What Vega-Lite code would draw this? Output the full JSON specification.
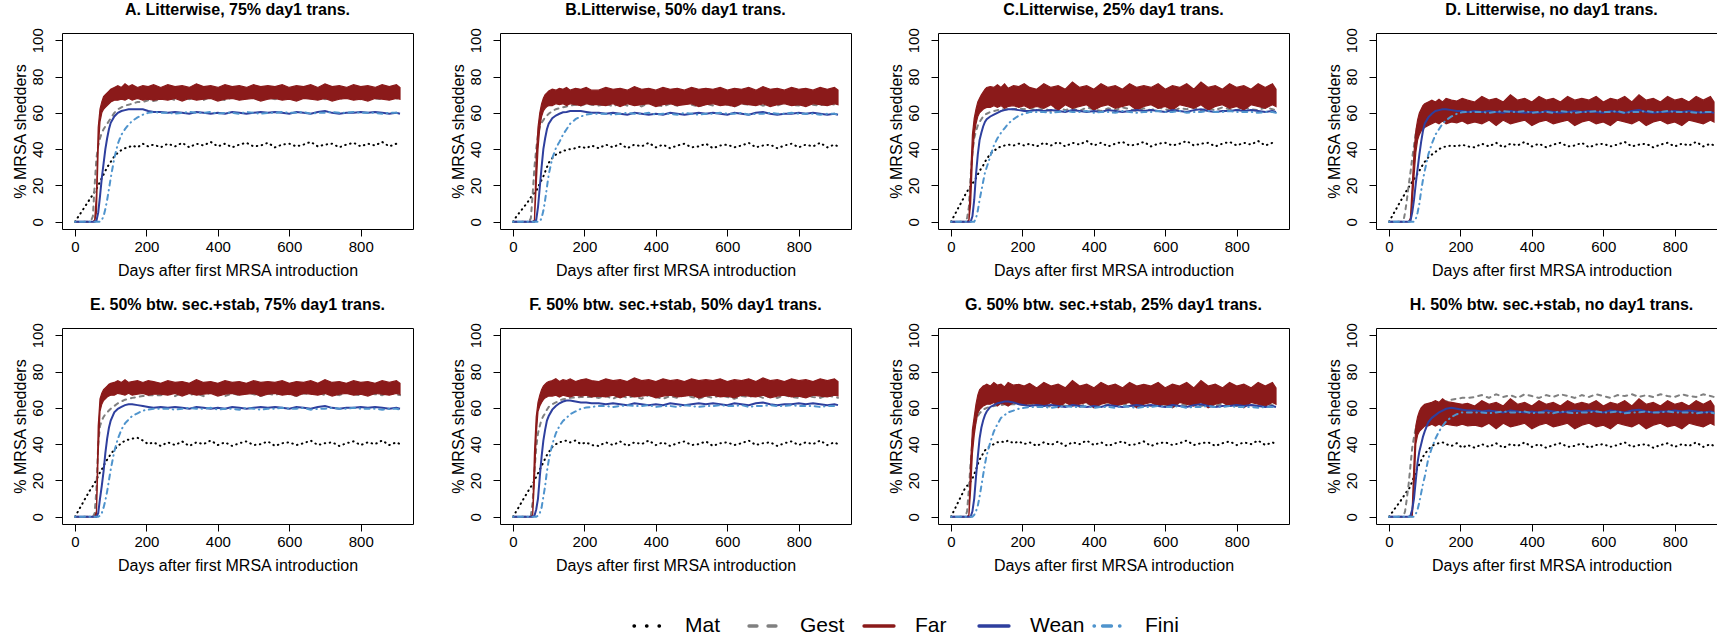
{
"$schema":"https://vega.github.io/schema/vega-lite/v6.json",
"autosize":{"type":"none"},
"padding":{"left":62,"top":33,"right":1655,"bottom":602},
"background":"white",
"columns":4,
"spacing":{"row":99,"column":87},
"bounds":"flush",
"datasets":{
"A":[
{"x":0,"Mat":0,"Gest":0,"lo":0,"hi":0,"Wean":0,"Fini":0},
{"x":10,"Mat":3,"Gest":0,"lo":0,"hi":0,"Wean":0,"Fini":0},
{"x":20,"Mat":6,"Gest":0,"lo":0,"hi":0,"Wean":0,"Fini":0},
{"x":30,"Mat":9,"Gest":0,"lo":0,"hi":0,"Wean":0,"Fini":0},
{"x":40,"Mat":12,"Gest":0,"lo":0,"hi":0,"Wean":0,"Fini":0},
{"x":45,"Mat":13.5,"Gest":0.5,"lo":0,"hi":0,"Wean":0,"Fini":0},
{"x":50,"Mat":15,"Gest":3,"lo":0,"hi":0,"Wean":0,"Fini":0},
{"x":55,"Mat":16.5,"Gest":20,"lo":0,"hi":1,"Wean":0,"Fini":0},
{"x":60,"Mat":18,"Gest":35,"lo":5,"hi":15,"Wean":0.5,"Fini":0},
{"x":65,"Mat":20,"Gest":42,"lo":40,"hi":52,"Wean":5,"Fini":0},
{"x":70,"Mat":22,"Gest":46,"lo":55,"hi":62,"Wean":14,"Fini":0},
{"x":75,"Mat":24,"Gest":49,"lo":60,"hi":66,"Wean":24,"Fini":1},
{"x":80,"Mat":26,"Gest":51,"lo":62,"hi":69,"Wean":32,"Fini":3},
{"x":85,"Mat":28,"Gest":52.5,"lo":63,"hi":70,"Wean":40,"Fini":7},
{"x":90,"Mat":30,"Gest":54,"lo":64,"hi":71,"Wean":46,"Fini":12},
{"x":95,"Mat":31.5,"Gest":55.5,"lo":65,"hi":72,"Wean":51,"Fini":18},
{"x":100,"Mat":33,"Gest":57,"lo":66,"hi":73,"Wean":54.5,"Fini":24},
{"x":110,"Mat":36,"Gest":60,"lo":67,"hi":74,"Wean":58,"Fini":35},
{"x":120,"Mat":38,"Gest":62,"lo":67,"hi":75,"Wean":60,"Fini":43},
{"x":130,"Mat":39.5,"Gest":63,"lo":67.5,"hi":74,"Wean":61,"Fini":48},
{"x":140,"Mat":40.5,"Gest":64,"lo":67,"hi":76,"Wean":61.5,"Fini":51},
{"x":150,"Mat":41,"Gest":64.5,"lo":68,"hi":74.5,"Wean":62,"Fini":53.5},
{"x":160,"Mat":42,"Gest":65,"lo":67,"hi":75.5,"Wean":62,"Fini":55.5},
{"x":175,"Mat":41,"Gest":66,"lo":68,"hi":74,"Wean":62,"Fini":57.5},
{"x":190,"Mat":43,"Gest":66,"lo":67,"hi":75,"Wean":62,"Fini":59},
{"x":205,"Mat":41.5,"Gest":67,"lo":67.5,"hi":74.5,"Wean":61,"Fini":60},
{"x":220,"Mat":42.5,"Gest":66.5,"lo":67,"hi":75.5,"Wean":60.5,"Fini":60.5},
{"x":240,"Mat":41,"Gest":67.5,"lo":67.5,"hi":74,"Wean":60.5,"Fini":60},
{"x":260,"Mat":43,"Gest":68.5,"lo":67,"hi":75.5,"Wean":60,"Fini":60},
{"x":280,"Mat":41.5,"Gest":67,"lo":68,"hi":74.5,"Wean":60.5,"Fini":59.5},
{"x":300,"Mat":43.5,"Gest":69,"lo":66.5,"hi":75,"Wean":60,"Fini":60},
{"x":320,"Mat":41,"Gest":67.5,"lo":68,"hi":74,"Wean":59.5,"Fini":60.5},
{"x":340,"Mat":43,"Gest":68.5,"lo":67,"hi":76,"Wean":60.5,"Fini":60},
{"x":360,"Mat":42,"Gest":67,"lo":67.5,"hi":74.5,"Wean":60,"Fini":60},
{"x":380,"Mat":44,"Gest":69,"lo":68,"hi":75,"Wean":59.5,"Fini":60.5},
{"x":400,"Mat":41.5,"Gest":68,"lo":66.5,"hi":74,"Wean":60,"Fini":59.5},
{"x":420,"Mat":43,"Gest":67,"lo":67.5,"hi":75.5,"Wean":59.5,"Fini":60},
{"x":440,"Mat":41,"Gest":68.5,"lo":68,"hi":74.5,"Wean":60.5,"Fini":60},
{"x":460,"Mat":42.5,"Gest":67.5,"lo":67,"hi":75,"Wean":60,"Fini":59.5},
{"x":480,"Mat":43.5,"Gest":69,"lo":67.5,"hi":74,"Wean":59.5,"Fini":60.5},
{"x":500,"Mat":41.5,"Gest":68,"lo":68,"hi":75.5,"Wean":60,"Fini":60},
{"x":520,"Mat":42,"Gest":67,"lo":66.5,"hi":74.5,"Wean":60.5,"Fini":59.5},
{"x":540,"Mat":43.5,"Gest":68.5,"lo":67.5,"hi":75,"Wean":60,"Fini":60},
{"x":560,"Mat":41,"Gest":67.5,"lo":68,"hi":74.5,"Wean":60.5,"Fini":60},
{"x":580,"Mat":42.5,"Gest":69,"lo":67,"hi":75.5,"Wean":60,"Fini":60.5},
{"x":600,"Mat":43,"Gest":68,"lo":67.5,"hi":74,"Wean":59.5,"Fini":60},
{"x":620,"Mat":41.5,"Gest":67,"lo":66.5,"hi":75,"Wean":60.5,"Fini":60},
{"x":640,"Mat":42.5,"Gest":68.5,"lo":68,"hi":74.5,"Wean":60,"Fini":60.5},
{"x":660,"Mat":44,"Gest":68,"lo":67.5,"hi":75.5,"Wean":59.5,"Fini":59.5},
{"x":680,"Mat":41.5,"Gest":69,"lo":67,"hi":74,"Wean":60.5,"Fini":60},
{"x":700,"Mat":42.5,"Gest":67.5,"lo":68,"hi":76,"Wean":61,"Fini":60},
{"x":720,"Mat":43,"Gest":68.5,"lo":66.5,"hi":74.5,"Wean":60,"Fini":60.5},
{"x":740,"Mat":41,"Gest":67.5,"lo":67.5,"hi":75,"Wean":59.5,"Fini":60},
{"x":760,"Mat":42.5,"Gest":69,"lo":68,"hi":74,"Wean":60,"Fini":60},
{"x":780,"Mat":43.5,"Gest":68,"lo":67,"hi":75.5,"Wean":60,"Fini":60.5},
{"x":800,"Mat":41.5,"Gest":67.5,"lo":67.5,"hi":74.5,"Wean":60.5,"Fini":60},
{"x":820,"Mat":43,"Gest":69,"lo":66.5,"hi":75,"Wean":60,"Fini":60},
{"x":840,"Mat":42,"Gest":68,"lo":68,"hi":74,"Wean":60.5,"Fini":60},
{"x":860,"Mat":44,"Gest":67.5,"lo":67.5,"hi":75.5,"Wean":60,"Fini":59.5},
{"x":880,"Mat":41.5,"Gest":69,"lo":67,"hi":74.5,"Wean":59.5,"Fini":60},
{"x":900,"Mat":43,"Gest":68,"lo":68,"hi":75.5,"Wean":60,"Fini":60},
{"x":910,"Mat":42,"Gest":67.5,"lo":67.5,"hi":74,"Wean":59.5,"Fini":59.5}
],
"B":[
{"x":0,"Mat":0,"Gest":0,"lo":0,"hi":0,"Wean":0,"Fini":0},
{"x":10,"Mat":3,"Gest":0,"lo":0,"hi":0,"Wean":0,"Fini":0},
{"x":20,"Mat":5.5,"Gest":0,"lo":0,"hi":0,"Wean":0,"Fini":0},
{"x":30,"Mat":8,"Gest":0,"lo":0,"hi":0,"Wean":0,"Fini":0},
{"x":40,"Mat":10.5,"Gest":0,"lo":0,"hi":0,"Wean":0,"Fini":0},
{"x":45,"Mat":12,"Gest":0,"lo":0,"hi":0,"Wean":0,"Fini":0},
{"x":50,"Mat":13.5,"Gest":2,"lo":0,"hi":0,"Wean":0,"Fini":0},
{"x":55,"Mat":15,"Gest":15,"lo":0,"hi":0,"Wean":0,"Fini":0},
{"x":60,"Mat":16,"Gest":30,"lo":0,"hi":1,"Wean":0,"Fini":0},
{"x":65,"Mat":17,"Gest":40,"lo":20,"hi":35,"Wean":1,"Fini":0},
{"x":70,"Mat":19,"Gest":48,"lo":40,"hi":52,"Wean":8,"Fini":0},
{"x":75,"Mat":21,"Gest":52,"lo":52,"hi":60,"Wean":19,"Fini":0},
{"x":80,"Mat":23,"Gest":54.5,"lo":58,"hi":65,"Wean":30,"Fini":2},
{"x":85,"Mat":25,"Gest":56,"lo":61,"hi":68,"Wean":40,"Fini":6},
{"x":90,"Mat":27.5,"Gest":57.5,"lo":62.5,"hi":70,"Wean":46,"Fini":12},
{"x":95,"Mat":30,"Gest":58.5,"lo":63.5,"hi":71,"Wean":51,"Fini":19},
{"x":100,"Mat":32.5,"Gest":59.5,"lo":64,"hi":72,"Wean":54,"Fini":26},
{"x":110,"Mat":35,"Gest":61,"lo":64,"hi":73,"Wean":57,"Fini":35},
{"x":120,"Mat":37,"Gest":62,"lo":65,"hi":72.5,"Wean":58.5,"Fini":40.5},
{"x":130,"Mat":38,"Gest":62.5,"lo":64.5,"hi":73.5,"Wean":59.5,"Fini":44},
{"x":140,"Mat":39,"Gest":63,"lo":65,"hi":73,"Wean":60.3,"Fini":48},
{"x":150,"Mat":39.5,"Gest":63.5,"lo":64,"hi":74,"Wean":60.5,"Fini":51},
{"x":160,"Mat":40,"Gest":64,"lo":65,"hi":72.5,"Wean":61,"Fini":54},
{"x":175,"Mat":40.5,"Gest":64.5,"lo":64.5,"hi":73.5,"Wean":61,"Fini":56.5},
{"x":190,"Mat":41.5,"Gest":64,"lo":64,"hi":73,"Wean":61,"Fini":58},
{"x":205,"Mat":40.5,"Gest":65,"lo":65,"hi":74,"Wean":60.5,"Fini":59},
{"x":220,"Mat":42,"Gest":64.5,"lo":64.5,"hi":72.5,"Wean":60,"Fini":59.5},
{"x":240,"Mat":40.5,"Gest":64,"lo":64.5,"hi":72.5,"Wean":60,"Fini":59.5},
{"x":260,"Mat":42.5,"Gest":65,"lo":64,"hi":74,"Wean":59.5,"Fini":59.5},
{"x":280,"Mat":41,"Gest":63.5,"lo":65,"hi":73,"Wean":60,"Fini":59},
{"x":300,"Mat":43,"Gest":65.5,"lo":63.5,"hi":73.5,"Wean":59.5,"Fini":59.5},
{"x":320,"Mat":40.5,"Gest":64,"lo":65,"hi":72.5,"Wean":59,"Fini":60},
{"x":340,"Mat":42.5,"Gest":65,"lo":64,"hi":74.5,"Wean":60,"Fini":59.5},
{"x":360,"Mat":41.5,"Gest":63.5,"lo":64.5,"hi":73,"Wean":59.5,"Fini":59.5},
{"x":380,"Mat":43.5,"Gest":65.5,"lo":65,"hi":73.5,"Wean":59,"Fini":60},
{"x":400,"Mat":41,"Gest":64.5,"lo":63.5,"hi":72.5,"Wean":59.5,"Fini":59},
{"x":420,"Mat":42.5,"Gest":63.5,"lo":64.5,"hi":74,"Wean":59,"Fini":59.5},
{"x":440,"Mat":40.5,"Gest":65,"lo":65,"hi":73,"Wean":60,"Fini":59.5},
{"x":460,"Mat":42,"Gest":64,"lo":64,"hi":73.5,"Wean":59.5,"Fini":59},
{"x":480,"Mat":43,"Gest":65.5,"lo":64.5,"hi":72.5,"Wean":59,"Fini":60},
{"x":500,"Mat":41,"Gest":64.5,"lo":65,"hi":74,"Wean":59.5,"Fini":59.5},
{"x":520,"Mat":41.5,"Gest":63.5,"lo":63.5,"hi":73,"Wean":60,"Fini":59},
{"x":540,"Mat":43,"Gest":65,"lo":64.5,"hi":73.5,"Wean":59.5,"Fini":59.5},
{"x":560,"Mat":40.5,"Gest":64,"lo":65,"hi":73,"Wean":60,"Fini":59.5},
{"x":580,"Mat":42,"Gest":65.5,"lo":64,"hi":74,"Wean":59.5,"Fini":60},
{"x":600,"Mat":42.5,"Gest":64.5,"lo":64.5,"hi":72.5,"Wean":59,"Fini":59.5},
{"x":620,"Mat":41,"Gest":63.5,"lo":63.5,"hi":73.5,"Wean":60,"Fini":59.5},
{"x":640,"Mat":42,"Gest":65,"lo":65,"hi":73,"Wean":59.5,"Fini":60},
{"x":660,"Mat":43.5,"Gest":64.5,"lo":64.5,"hi":74,"Wean":59,"Fini":59},
{"x":680,"Mat":41,"Gest":65.5,"lo":64,"hi":72.5,"Wean":60,"Fini":59.5},
{"x":700,"Mat":42,"Gest":64,"lo":65,"hi":74.5,"Wean":60.5,"Fini":59.5},
{"x":720,"Mat":42.5,"Gest":65,"lo":63.5,"hi":73,"Wean":59.5,"Fini":60},
{"x":740,"Mat":40.5,"Gest":64,"lo":64.5,"hi":73.5,"Wean":59,"Fini":59.5},
{"x":760,"Mat":42,"Gest":65.5,"lo":65,"hi":72.5,"Wean":59.5,"Fini":59.5},
{"x":780,"Mat":43,"Gest":64.5,"lo":64,"hi":74,"Wean":59.5,"Fini":60},
{"x":800,"Mat":41,"Gest":64,"lo":64.5,"hi":73,"Wean":60,"Fini":59.5},
{"x":820,"Mat":42.5,"Gest":65.5,"lo":63.5,"hi":73.5,"Wean":59.5,"Fini":59.5},
{"x":840,"Mat":41.5,"Gest":64.5,"lo":65,"hi":72.5,"Wean":60,"Fini":59.5},
{"x":860,"Mat":43.5,"Gest":64,"lo":64.5,"hi":74,"Wean":59.5,"Fini":59},
{"x":880,"Mat":41,"Gest":65.5,"lo":64,"hi":73,"Wean":59,"Fini":59.5},
{"x":900,"Mat":42.5,"Gest":64.5,"lo":65,"hi":74,"Wean":59.5,"Fini":59.5},
{"x":910,"Mat":41.5,"Gest":64,"lo":64.5,"hi":72.5,"Wean":59,"Fini":59}
],
"C":[
{"x":0,"Mat":0,"Gest":0,"lo":0,"hi":0,"Wean":0,"Fini":0},
{"x":10,"Mat":3.7,"Gest":0,"lo":0,"hi":0,"Wean":0,"Fini":0},
{"x":20,"Mat":7.5,"Gest":0,"lo":0,"hi":0,"Wean":0,"Fini":0},
{"x":30,"Mat":11,"Gest":0,"lo":0,"hi":0,"Wean":0,"Fini":0},
{"x":40,"Mat":15,"Gest":0,"lo":0,"hi":0,"Wean":0,"Fini":0},
{"x":45,"Mat":16.5,"Gest":2,"lo":0,"hi":0,"Wean":0,"Fini":0},
{"x":50,"Mat":18.5,"Gest":8,"lo":0,"hi":1,"Wean":0,"Fini":0},
{"x":55,"Mat":19.5,"Gest":25,"lo":10,"hi":25,"Wean":0,"Fini":0},
{"x":60,"Mat":21,"Gest":38,"lo":35,"hi":48,"Wean":3,"Fini":0},
{"x":65,"Mat":22.5,"Gest":46,"lo":48,"hi":57,"Wean":12,"Fini":0},
{"x":70,"Mat":24,"Gest":50,"lo":54,"hi":62,"Wean":26,"Fini":2},
{"x":75,"Mat":26,"Gest":53,"lo":58,"hi":66,"Wean":37,"Fini":6},
{"x":80,"Mat":28,"Gest":55,"lo":60,"hi":68,"Wean":45,"Fini":12},
{"x":85,"Mat":29.5,"Gest":56.5,"lo":61,"hi":70,"Wean":49,"Fini":17},
{"x":90,"Mat":31,"Gest":58,"lo":62,"hi":71.5,"Wean":52.5,"Fini":22},
{"x":95,"Mat":33,"Gest":59,"lo":62.5,"hi":73,"Wean":55,"Fini":27},
{"x":100,"Mat":34.5,"Gest":59.5,"lo":63,"hi":74,"Wean":56.5,"Fini":30},
{"x":110,"Mat":37.5,"Gest":60.5,"lo":63,"hi":74.5,"Wean":58,"Fini":36},
{"x":120,"Mat":39,"Gest":61,"lo":64,"hi":74,"Wean":59,"Fini":42},
{"x":130,"Mat":40.5,"Gest":61.5,"lo":63,"hi":75.5,"Wean":60,"Fini":46},
{"x":140,"Mat":41.5,"Gest":62,"lo":64,"hi":74,"Wean":61,"Fini":49},
{"x":150,"Mat":42,"Gest":62,"lo":62.5,"hi":76,"Wean":61.5,"Fini":51.5},
{"x":160,"Mat":42.5,"Gest":62,"lo":63.5,"hi":73.5,"Wean":62,"Fini":54},
{"x":175,"Mat":42,"Gest":62,"lo":64,"hi":75,"Wean":62,"Fini":56.5},
{"x":190,"Mat":43,"Gest":62.5,"lo":63,"hi":74.5,"Wean":61.5,"Fini":58.5},
{"x":205,"Mat":42,"Gest":62,"lo":64,"hi":76,"Wean":61,"Fini":59.5},
{"x":220,"Mat":43,"Gest":62.5,"lo":62.5,"hi":74,"Wean":61,"Fini":60.5},
{"x":240,"Mat":41.5,"Gest":61.5,"lo":63.5,"hi":73,"Wean":61.5,"Fini":60.5},
{"x":260,"Mat":43.5,"Gest":62.5,"lo":62.5,"hi":76,"Wean":61,"Fini":60.5},
{"x":280,"Mat":42,"Gest":61,"lo":64.5,"hi":74,"Wean":61.5,"Fini":60},
{"x":300,"Mat":44,"Gest":63,"lo":61.5,"hi":75,"Wean":61,"Fini":60.5},
{"x":320,"Mat":41.5,"Gest":61.5,"lo":64.5,"hi":73,"Wean":60.5,"Fini":61},
{"x":340,"Mat":43.5,"Gest":62.5,"lo":62.5,"hi":77,"Wean":61.5,"Fini":60.5},
{"x":360,"Mat":42.5,"Gest":61,"lo":63.5,"hi":74,"Wean":61,"Fini":60.5},
{"x":380,"Mat":44.5,"Gest":63,"lo":64.5,"hi":75,"Wean":60.5,"Fini":61},
{"x":400,"Mat":42,"Gest":62,"lo":61.5,"hi":73,"Wean":61,"Fini":60},
{"x":420,"Mat":43.5,"Gest":61,"lo":63.5,"hi":76,"Wean":60.5,"Fini":60.5},
{"x":440,"Mat":41.5,"Gest":62.5,"lo":64.5,"hi":74,"Wean":61.5,"Fini":60.5},
{"x":460,"Mat":43,"Gest":61.5,"lo":62.5,"hi":75,"Wean":61,"Fini":60},
{"x":480,"Mat":44,"Gest":63,"lo":63.5,"hi":73,"Wean":60.5,"Fini":61},
{"x":500,"Mat":42,"Gest":62,"lo":64.5,"hi":76,"Wean":61,"Fini":60.5},
{"x":520,"Mat":42.5,"Gest":61,"lo":61.5,"hi":74,"Wean":61.5,"Fini":60},
{"x":540,"Mat":44,"Gest":62.5,"lo":63.5,"hi":75,"Wean":61,"Fini":60.5},
{"x":560,"Mat":41.5,"Gest":61.5,"lo":64.5,"hi":74,"Wean":61.5,"Fini":60.5},
{"x":580,"Mat":43,"Gest":63,"lo":62.5,"hi":76,"Wean":61,"Fini":61},
{"x":600,"Mat":43.5,"Gest":62,"lo":63.5,"hi":73,"Wean":60.5,"Fini":60.5},
{"x":620,"Mat":42,"Gest":61,"lo":61.5,"hi":75,"Wean":61.5,"Fini":60.5},
{"x":640,"Mat":43,"Gest":62.5,"lo":64.5,"hi":74,"Wean":61,"Fini":61},
{"x":660,"Mat":44.5,"Gest":62,"lo":63.5,"hi":76,"Wean":60.5,"Fini":60},
{"x":680,"Mat":42,"Gest":63,"lo":62.5,"hi":73,"Wean":61.5,"Fini":60.5},
{"x":700,"Mat":43,"Gest":61.5,"lo":64.5,"hi":77,"Wean":62,"Fini":60.5},
{"x":720,"Mat":43.5,"Gest":62.5,"lo":61.5,"hi":74,"Wean":61,"Fini":61},
{"x":740,"Mat":41.5,"Gest":61.5,"lo":63.5,"hi":75,"Wean":60.5,"Fini":60.5},
{"x":760,"Mat":43,"Gest":63,"lo":64.5,"hi":73,"Wean":61,"Fini":60.5},
{"x":780,"Mat":44,"Gest":62,"lo":62.5,"hi":76,"Wean":61,"Fini":61},
{"x":800,"Mat":42,"Gest":61.5,"lo":63.5,"hi":74,"Wean":61.5,"Fini":60.5},
{"x":820,"Mat":43.5,"Gest":63,"lo":61.5,"hi":75,"Wean":61,"Fini":60.5},
{"x":840,"Mat":42.5,"Gest":62,"lo":64.5,"hi":73,"Wean":61.5,"Fini":60.5},
{"x":860,"Mat":44.5,"Gest":61.5,"lo":63.5,"hi":76,"Wean":61,"Fini":60},
{"x":880,"Mat":42,"Gest":63,"lo":62.5,"hi":74,"Wean":60.5,"Fini":60.5},
{"x":900,"Mat":43.5,"Gest":62,"lo":64.5,"hi":76,"Wean":61,"Fini":60.5},
{"x":910,"Mat":42.5,"Gest":61.5,"lo":63.5,"hi":73,"Wean":60.5,"Fini":60}
],
"D":[
{"x":0,"Mat":0,"Gest":0,"lo":0,"hi":0,"Wean":0,"Fini":0},
{"x":10,"Mat":3.5,"Gest":0,"lo":0,"hi":0,"Wean":0,"Fini":0},
{"x":20,"Mat":7,"Gest":0,"lo":0,"hi":0,"Wean":0,"Fini":0},
{"x":30,"Mat":10.5,"Gest":0,"lo":0,"hi":0,"Wean":0,"Fini":0},
{"x":40,"Mat":14,"Gest":0,"lo":0,"hi":0,"Wean":0,"Fini":0},
{"x":45,"Mat":15.5,"Gest":5,"lo":0,"hi":0,"Wean":0,"Fini":0},
{"x":50,"Mat":17.5,"Gest":12,"lo":0,"hi":0,"Wean":0,"Fini":0},
{"x":55,"Mat":19,"Gest":20,"lo":0,"hi":0,"Wean":0,"Fini":0},
{"x":60,"Mat":20.5,"Gest":27,"lo":0,"hi":2,"Wean":0.5,"Fini":0},
{"x":65,"Mat":22,"Gest":35,"lo":10,"hi":20,"Wean":5,"Fini":0},
{"x":70,"Mat":23.5,"Gest":42,"lo":25,"hi":38,"Wean":12,"Fini":0},
{"x":75,"Mat":25,"Gest":49,"lo":38,"hi":50,"Wean":21,"Fini":1.5},
{"x":80,"Mat":26.5,"Gest":53,"lo":45,"hi":56,"Wean":29,"Fini":5},
{"x":85,"Mat":28,"Gest":55,"lo":48,"hi":60,"Wean":37,"Fini":10},
{"x":90,"Mat":30,"Gest":57,"lo":50,"hi":62,"Wean":44,"Fini":17},
{"x":95,"Mat":31.5,"Gest":58,"lo":51,"hi":64,"Wean":50,"Fini":23},
{"x":100,"Mat":33,"Gest":59,"lo":52,"hi":65,"Wean":54,"Fini":28},
{"x":110,"Mat":35.5,"Gest":60,"lo":53,"hi":66,"Wean":57.5,"Fini":37},
{"x":120,"Mat":37,"Gest":61,"lo":54,"hi":67,"Wean":59.5,"Fini":43},
{"x":130,"Mat":38.5,"Gest":61.5,"lo":55,"hi":66,"Wean":61,"Fini":48},
{"x":140,"Mat":40,"Gest":62,"lo":54,"hi":67.5,"Wean":61.5,"Fini":51},
{"x":150,"Mat":41,"Gest":62.5,"lo":55.5,"hi":66,"Wean":62,"Fini":54},
{"x":160,"Mat":41.5,"Gest":63,"lo":54,"hi":68,"Wean":62,"Fini":56},
{"x":175,"Mat":42,"Gest":64,"lo":55,"hi":67,"Wean":61.5,"Fini":58},
{"x":190,"Mat":41.5,"Gest":65,"lo":54.5,"hi":66.5,"Wean":61,"Fini":59.5},
{"x":205,"Mat":42.5,"Gest":64,"lo":55.5,"hi":68,"Wean":61,"Fini":60.3},
{"x":220,"Mat":41.5,"Gest":63,"lo":54,"hi":67,"Wean":60.5,"Fini":60.5},
{"x":240,"Mat":41,"Gest":62,"lo":55,"hi":66,"Wean":61,"Fini":60.5},
{"x":260,"Mat":43,"Gest":63,"lo":54,"hi":69,"Wean":60.5,"Fini":60.5},
{"x":280,"Mat":41.5,"Gest":61.5,"lo":56,"hi":67,"Wean":61,"Fini":60},
{"x":300,"Mat":43.5,"Gest":63.5,"lo":53,"hi":68,"Wean":60.5,"Fini":60.5},
{"x":320,"Mat":41,"Gest":62,"lo":56,"hi":66,"Wean":60,"Fini":61},
{"x":340,"Mat":43,"Gest":63,"lo":54,"hi":70,"Wean":61,"Fini":60.5},
{"x":360,"Mat":42,"Gest":61.5,"lo":55,"hi":67,"Wean":60.5,"Fini":60.5},
{"x":380,"Mat":44,"Gest":63.5,"lo":56,"hi":68,"Wean":60,"Fini":61},
{"x":400,"Mat":41.5,"Gest":62.5,"lo":53,"hi":66,"Wean":60.5,"Fini":60},
{"x":420,"Mat":43,"Gest":61.5,"lo":55,"hi":69,"Wean":60,"Fini":60.5},
{"x":440,"Mat":41,"Gest":63,"lo":56,"hi":67,"Wean":61,"Fini":60.5},
{"x":460,"Mat":42.5,"Gest":62,"lo":54,"hi":68,"Wean":60.5,"Fini":60},
{"x":480,"Mat":43.5,"Gest":63.5,"lo":55,"hi":66,"Wean":60,"Fini":61},
{"x":500,"Mat":41.5,"Gest":62.5,"lo":56,"hi":69,"Wean":60.5,"Fini":60.5},
{"x":520,"Mat":42,"Gest":61.5,"lo":53,"hi":67,"Wean":61,"Fini":60},
{"x":540,"Mat":43.5,"Gest":63,"lo":55,"hi":68,"Wean":60.5,"Fini":60.5},
{"x":560,"Mat":41,"Gest":62,"lo":56,"hi":67,"Wean":61,"Fini":60.5},
{"x":580,"Mat":42.5,"Gest":63.5,"lo":54,"hi":69,"Wean":60.5,"Fini":61},
{"x":600,"Mat":43,"Gest":62.5,"lo":55,"hi":66,"Wean":60,"Fini":60.5},
{"x":620,"Mat":41.5,"Gest":61.5,"lo":53,"hi":68,"Wean":61,"Fini":60.5},
{"x":640,"Mat":42.5,"Gest":63,"lo":56,"hi":67,"Wean":60.5,"Fini":61},
{"x":660,"Mat":44,"Gest":62.5,"lo":55,"hi":69,"Wean":60,"Fini":60},
{"x":680,"Mat":41.5,"Gest":63.5,"lo":54,"hi":66,"Wean":61,"Fini":60.5},
{"x":700,"Mat":42.5,"Gest":62,"lo":56,"hi":70,"Wean":61.5,"Fini":60.5},
{"x":720,"Mat":43,"Gest":63,"lo":53,"hi":67,"Wean":60.5,"Fini":61},
{"x":740,"Mat":41,"Gest":62,"lo":55,"hi":68,"Wean":60,"Fini":60.5},
{"x":760,"Mat":42.5,"Gest":63.5,"lo":56,"hi":66,"Wean":60.5,"Fini":60.5},
{"x":780,"Mat":43.5,"Gest":62.5,"lo":54,"hi":69,"Wean":60.5,"Fini":61},
{"x":800,"Mat":41.5,"Gest":62,"lo":55,"hi":67,"Wean":61,"Fini":60.5},
{"x":820,"Mat":43,"Gest":63.5,"lo":53,"hi":68,"Wean":60.5,"Fini":60.5},
{"x":840,"Mat":42,"Gest":62.5,"lo":56,"hi":66,"Wean":61,"Fini":60.5},
{"x":860,"Mat":44,"Gest":62,"lo":55,"hi":69,"Wean":60.5,"Fini":60},
{"x":880,"Mat":41.5,"Gest":63.5,"lo":54,"hi":67,"Wean":60,"Fini":60.5},
{"x":900,"Mat":43,"Gest":62.5,"lo":56,"hi":69,"Wean":60.5,"Fini":60.5},
{"x":910,"Mat":42,"Gest":62,"lo":55,"hi":66,"Wean":60,"Fini":60}
],
"E":[
{"x":0,"Mat":0,"Gest":0,"lo":0,"hi":0,"Wean":0,"Fini":0},
{"x":10,"Mat":3.5,"Gest":0,"lo":0,"hi":0,"Wean":0,"Fini":0},
{"x":20,"Mat":7,"Gest":0,"lo":0,"hi":0,"Wean":0,"Fini":0},
{"x":30,"Mat":10.5,"Gest":0,"lo":0,"hi":0,"Wean":0,"Fini":0},
{"x":40,"Mat":14,"Gest":0,"lo":0,"hi":0,"Wean":0,"Fini":0},
{"x":45,"Mat":15.5,"Gest":0,"lo":0,"hi":0,"Wean":0,"Fini":0},
{"x":50,"Mat":17,"Gest":0,"lo":0,"hi":0,"Wean":0,"Fini":0},
{"x":55,"Mat":18.5,"Gest":2,"lo":0,"hi":0,"Wean":0,"Fini":0},
{"x":60,"Mat":20.5,"Gest":15,"lo":0,"hi":3,"Wean":0,"Fini":0},
{"x":65,"Mat":22.5,"Gest":40,"lo":35,"hi":50,"Wean":2,"Fini":0},
{"x":70,"Mat":24.5,"Gest":50,"lo":58,"hi":65,"Wean":10,"Fini":0.5},
{"x":75,"Mat":26,"Gest":53,"lo":62,"hi":68,"Wean":17,"Fini":2},
{"x":80,"Mat":28,"Gest":55,"lo":64,"hi":70,"Wean":25,"Fini":5},
{"x":85,"Mat":30,"Gest":56.5,"lo":65,"hi":71,"Wean":35,"Fini":9},
{"x":90,"Mat":31.5,"Gest":57.5,"lo":66,"hi":72,"Wean":43,"Fini":14},
{"x":95,"Mat":33,"Gest":58.5,"lo":66.5,"hi":73,"Wean":49,"Fini":20},
{"x":100,"Mat":34.5,"Gest":59.5,"lo":67,"hi":73.5,"Wean":53,"Fini":26},
{"x":110,"Mat":37,"Gest":61,"lo":67,"hi":74,"Wean":57.5,"Fini":36},
{"x":120,"Mat":39,"Gest":62.5,"lo":68,"hi":75,"Wean":59.5,"Fini":43},
{"x":130,"Mat":40.5,"Gest":63.5,"lo":67.5,"hi":74,"Wean":60.5,"Fini":48},
{"x":140,"Mat":42,"Gest":64.5,"lo":67,"hi":75.5,"Wean":61.5,"Fini":51.5},
{"x":150,"Mat":42.5,"Gest":65,"lo":68,"hi":74,"Wean":62,"Fini":53.5},
{"x":160,"Mat":43,"Gest":65.5,"lo":67,"hi":74.5,"Wean":62,"Fini":55.5},
{"x":175,"Mat":43.5,"Gest":66,"lo":67.5,"hi":75,"Wean":61.5,"Fini":57},
{"x":190,"Mat":42,"Gest":66.5,"lo":68,"hi":74,"Wean":61,"Fini":58.5},
{"x":205,"Mat":40,"Gest":67,"lo":67,"hi":75,"Wean":60.5,"Fini":59},
{"x":220,"Mat":41,"Gest":67,"lo":67.5,"hi":74.5,"Wean":60,"Fini":59.5},
{"x":240,"Mat":39,"Gest":67,"lo":67.5,"hi":73.5,"Wean":60.5,"Fini":59.5},
{"x":260,"Mat":41,"Gest":68,"lo":67,"hi":75,"Wean":60,"Fini":59.5},
{"x":280,"Mat":39.5,"Gest":66.5,"lo":68,"hi":74,"Wean":60.5,"Fini":59},
{"x":300,"Mat":41.5,"Gest":68.5,"lo":66.5,"hi":74.5,"Wean":60,"Fini":59.5},
{"x":320,"Mat":39,"Gest":67,"lo":68,"hi":73.5,"Wean":59.5,"Fini":60},
{"x":340,"Mat":41,"Gest":68,"lo":67,"hi":75.5,"Wean":60.5,"Fini":59.5},
{"x":360,"Mat":40,"Gest":66.5,"lo":67.5,"hi":74,"Wean":60,"Fini":59.5},
{"x":380,"Mat":42,"Gest":68.5,"lo":68,"hi":74.5,"Wean":59.5,"Fini":60},
{"x":400,"Mat":39.5,"Gest":67.5,"lo":66.5,"hi":73.5,"Wean":60,"Fini":59},
{"x":420,"Mat":41,"Gest":66.5,"lo":67.5,"hi":75,"Wean":59.5,"Fini":59.5},
{"x":440,"Mat":39,"Gest":68,"lo":68,"hi":74,"Wean":60.5,"Fini":59.5},
{"x":460,"Mat":40.5,"Gest":67,"lo":67,"hi":74.5,"Wean":60,"Fini":59},
{"x":480,"Mat":41.5,"Gest":68.5,"lo":67.5,"hi":73.5,"Wean":59.5,"Fini":60},
{"x":500,"Mat":39.5,"Gest":67.5,"lo":68,"hi":75,"Wean":60,"Fini":59.5},
{"x":520,"Mat":40,"Gest":66.5,"lo":66.5,"hi":74,"Wean":60.5,"Fini":59},
{"x":540,"Mat":41.5,"Gest":68,"lo":67.5,"hi":74.5,"Wean":60,"Fini":59.5},
{"x":560,"Mat":39,"Gest":67,"lo":68,"hi":74,"Wean":60.5,"Fini":59.5},
{"x":580,"Mat":40.5,"Gest":68.5,"lo":67,"hi":75,"Wean":60,"Fini":60},
{"x":600,"Mat":41,"Gest":67.5,"lo":67.5,"hi":73.5,"Wean":59.5,"Fini":59.5},
{"x":620,"Mat":39.5,"Gest":66.5,"lo":66.5,"hi":74.5,"Wean":60.5,"Fini":59.5},
{"x":640,"Mat":40.5,"Gest":68,"lo":68,"hi":74,"Wean":60,"Fini":60},
{"x":660,"Mat":42,"Gest":67.5,"lo":67.5,"hi":75,"Wean":59.5,"Fini":59},
{"x":680,"Mat":39.5,"Gest":68.5,"lo":67,"hi":73.5,"Wean":60.5,"Fini":59.5},
{"x":700,"Mat":40.5,"Gest":67,"lo":68,"hi":75.5,"Wean":61,"Fini":59.5},
{"x":720,"Mat":41,"Gest":68,"lo":66.5,"hi":74,"Wean":60,"Fini":60},
{"x":740,"Mat":39,"Gest":67,"lo":67.5,"hi":74.5,"Wean":59.5,"Fini":59.5},
{"x":760,"Mat":40.5,"Gest":68.5,"lo":68,"hi":73.5,"Wean":60,"Fini":59.5},
{"x":780,"Mat":41.5,"Gest":67.5,"lo":67,"hi":75,"Wean":60,"Fini":60},
{"x":800,"Mat":39.5,"Gest":67,"lo":67.5,"hi":74,"Wean":60.5,"Fini":59.5},
{"x":820,"Mat":41,"Gest":68.5,"lo":66.5,"hi":74.5,"Wean":60,"Fini":59.5},
{"x":840,"Mat":40,"Gest":67.5,"lo":68,"hi":73.5,"Wean":60.5,"Fini":59.5},
{"x":860,"Mat":42,"Gest":67,"lo":67.5,"hi":75,"Wean":60,"Fini":59},
{"x":880,"Mat":39.5,"Gest":68.5,"lo":67,"hi":74,"Wean":59.5,"Fini":59.5},
{"x":900,"Mat":41,"Gest":67.5,"lo":68,"hi":75,"Wean":60,"Fini":59.5},
{"x":910,"Mat":40,"Gest":67,"lo":67.5,"hi":73.5,"Wean":59.5,"Fini":59}
],
"F":[
{"x":0,"Mat":0,"Gest":0,"lo":0,"hi":0,"Wean":0,"Fini":0},
{"x":10,"Mat":3.3,"Gest":0,"lo":0,"hi":0,"Wean":0,"Fini":0},
{"x":20,"Mat":6.6,"Gest":0,"lo":0,"hi":0,"Wean":0,"Fini":0},
{"x":30,"Mat":10,"Gest":0,"lo":0,"hi":0,"Wean":0,"Fini":0},
{"x":40,"Mat":13.3,"Gest":0,"lo":0,"hi":0,"Wean":0,"Fini":0},
{"x":45,"Mat":15,"Gest":0,"lo":0,"hi":0,"Wean":0,"Fini":0},
{"x":50,"Mat":16.5,"Gest":0.5,"lo":0,"hi":0,"Wean":0,"Fini":0},
{"x":55,"Mat":18,"Gest":8,"lo":0,"hi":1,"Wean":0,"Fini":0},
{"x":60,"Mat":20,"Gest":25,"lo":20,"hi":35,"Wean":0.5,"Fini":0},
{"x":65,"Mat":22,"Gest":38,"lo":45,"hi":55,"Wean":4,"Fini":0},
{"x":70,"Mat":24,"Gest":46,"lo":58,"hi":63,"Wean":10,"Fini":0.5},
{"x":75,"Mat":26,"Gest":50,"lo":61,"hi":67,"Wean":22,"Fini":2},
{"x":80,"Mat":28,"Gest":53.5,"lo":63,"hi":70,"Wean":33,"Fini":5},
{"x":85,"Mat":30,"Gest":55.5,"lo":64.5,"hi":72,"Wean":42,"Fini":11},
{"x":90,"Mat":32,"Gest":57,"lo":65.5,"hi":73,"Wean":48,"Fini":17},
{"x":95,"Mat":34,"Gest":59,"lo":66,"hi":74,"Wean":53,"Fini":25},
{"x":100,"Mat":35.5,"Gest":60.5,"lo":66.5,"hi":74.5,"Wean":55.5,"Fini":31},
{"x":110,"Mat":38.5,"Gest":62,"lo":66.5,"hi":75,"Wean":59,"Fini":40},
{"x":120,"Mat":40,"Gest":63,"lo":67,"hi":76,"Wean":61,"Fini":46},
{"x":130,"Mat":41,"Gest":64,"lo":66,"hi":74.5,"Wean":62.5,"Fini":50},
{"x":140,"Mat":41.5,"Gest":64.8,"lo":67,"hi":75.5,"Wean":63.5,"Fini":52.8},
{"x":150,"Mat":42,"Gest":65,"lo":66.5,"hi":75,"Wean":64,"Fini":54.5},
{"x":160,"Mat":41,"Gest":65.5,"lo":66,"hi":76,"Wean":64,"Fini":56.5},
{"x":175,"Mat":42,"Gest":65.7,"lo":67,"hi":74.5,"Wean":63.5,"Fini":58},
{"x":190,"Mat":40,"Gest":66,"lo":66.5,"hi":75.5,"Wean":63,"Fini":59.5},
{"x":205,"Mat":41,"Gest":66,"lo":67,"hi":76,"Wean":63,"Fini":60.2},
{"x":220,"Mat":39.5,"Gest":66,"lo":66,"hi":75,"Wean":62.5,"Fini":60.5},
{"x":240,"Mat":39,"Gest":65.5,"lo":66.5,"hi":74.5,"Wean":62.5,"Fini":61},
{"x":260,"Mat":41,"Gest":66.5,"lo":66,"hi":76,"Wean":62,"Fini":61},
{"x":280,"Mat":39.5,"Gest":65,"lo":67,"hi":75,"Wean":62.5,"Fini":60.5},
{"x":300,"Mat":41.5,"Gest":67,"lo":65.5,"hi":75.5,"Wean":62,"Fini":61},
{"x":320,"Mat":39,"Gest":65.5,"lo":67,"hi":74.5,"Wean":61.5,"Fini":61.5},
{"x":340,"Mat":41,"Gest":66.5,"lo":66,"hi":76.5,"Wean":62.5,"Fini":61},
{"x":360,"Mat":40,"Gest":65,"lo":66.5,"hi":75,"Wean":62,"Fini":61},
{"x":380,"Mat":42,"Gest":67,"lo":67,"hi":75.5,"Wean":61.5,"Fini":61.5},
{"x":400,"Mat":39.5,"Gest":66,"lo":65.5,"hi":74.5,"Wean":62,"Fini":60.5},
{"x":420,"Mat":41,"Gest":65,"lo":66.5,"hi":76,"Wean":61.5,"Fini":61},
{"x":440,"Mat":39,"Gest":66.5,"lo":67,"hi":75,"Wean":62.5,"Fini":61},
{"x":460,"Mat":40.5,"Gest":65.5,"lo":66,"hi":75.5,"Wean":62,"Fini":60.5},
{"x":480,"Mat":41.5,"Gest":67,"lo":66.5,"hi":74.5,"Wean":61.5,"Fini":61.5},
{"x":500,"Mat":39.5,"Gest":66,"lo":67,"hi":76,"Wean":62,"Fini":61},
{"x":520,"Mat":40,"Gest":65,"lo":65.5,"hi":75,"Wean":62.5,"Fini":60.5},
{"x":540,"Mat":41.5,"Gest":66.5,"lo":66.5,"hi":75.5,"Wean":62,"Fini":61},
{"x":560,"Mat":39,"Gest":65.5,"lo":67,"hi":75,"Wean":62.5,"Fini":61},
{"x":580,"Mat":40.5,"Gest":67,"lo":66,"hi":76,"Wean":62,"Fini":61.5},
{"x":600,"Mat":41,"Gest":66,"lo":66.5,"hi":74.5,"Wean":61.5,"Fini":61},
{"x":620,"Mat":39.5,"Gest":65,"lo":65.5,"hi":75.5,"Wean":62.5,"Fini":61},
{"x":640,"Mat":40.5,"Gest":66.5,"lo":67,"hi":75,"Wean":62,"Fini":61.5},
{"x":660,"Mat":42,"Gest":66,"lo":66.5,"hi":76,"Wean":61.5,"Fini":60.5},
{"x":680,"Mat":39.5,"Gest":67,"lo":66,"hi":74.5,"Wean":62.5,"Fini":61},
{"x":700,"Mat":40.5,"Gest":65.5,"lo":67,"hi":76.5,"Wean":63,"Fini":61},
{"x":720,"Mat":41,"Gest":66.5,"lo":65.5,"hi":75,"Wean":62,"Fini":61.5},
{"x":740,"Mat":39,"Gest":65.5,"lo":66.5,"hi":75.5,"Wean":61.5,"Fini":61},
{"x":760,"Mat":40.5,"Gest":67,"lo":67,"hi":74.5,"Wean":62,"Fini":61},
{"x":780,"Mat":41.5,"Gest":66,"lo":66,"hi":76,"Wean":62,"Fini":61.5},
{"x":800,"Mat":39.5,"Gest":65.5,"lo":66.5,"hi":75,"Wean":62.5,"Fini":61},
{"x":820,"Mat":41,"Gest":67,"lo":65.5,"hi":75.5,"Wean":62,"Fini":61},
{"x":840,"Mat":40,"Gest":66,"lo":67,"hi":74.5,"Wean":62.5,"Fini":61},
{"x":860,"Mat":42,"Gest":65.5,"lo":66.5,"hi":76,"Wean":62,"Fini":60.5},
{"x":880,"Mat":39.5,"Gest":67,"lo":66,"hi":75,"Wean":61.5,"Fini":61},
{"x":900,"Mat":41,"Gest":66,"lo":67,"hi":76,"Wean":62,"Fini":61},
{"x":910,"Mat":40,"Gest":65.5,"lo":66.5,"hi":74.5,"Wean":61.5,"Fini":60.5}
],
"G":[
{"x":0,"Mat":0,"Gest":0,"lo":0,"hi":0,"Wean":0,"Fini":0},
{"x":10,"Mat":4,"Gest":0,"lo":0,"hi":0,"Wean":0,"Fini":0},
{"x":20,"Mat":8,"Gest":0,"lo":0,"hi":0,"Wean":0,"Fini":0},
{"x":30,"Mat":12,"Gest":0,"lo":0,"hi":0,"Wean":0,"Fini":0},
{"x":40,"Mat":16,"Gest":0,"lo":0,"hi":0,"Wean":0,"Fini":0},
{"x":45,"Mat":17,"Gest":3,"lo":0,"hi":0,"Wean":0,"Fini":0},
{"x":50,"Mat":18,"Gest":15,"lo":0,"hi":1,"Wean":0,"Fini":0},
{"x":55,"Mat":19.5,"Gest":30,"lo":15,"hi":30,"Wean":0,"Fini":0},
{"x":60,"Mat":21,"Gest":42,"lo":35,"hi":48,"Wean":3,"Fini":0},
{"x":65,"Mat":23.5,"Gest":49,"lo":45,"hi":55,"Wean":10,"Fini":1},
{"x":70,"Mat":26,"Gest":53,"lo":52,"hi":62,"Wean":22,"Fini":3},
{"x":75,"Mat":29,"Gest":55.5,"lo":57,"hi":67,"Wean":33,"Fini":6},
{"x":80,"Mat":31.5,"Gest":57,"lo":59,"hi":70,"Wean":43,"Fini":11},
{"x":85,"Mat":33,"Gest":58,"lo":60,"hi":71,"Wean":49,"Fini":17},
{"x":90,"Mat":35,"Gest":59,"lo":61,"hi":72,"Wean":53,"Fini":23},
{"x":95,"Mat":36.5,"Gest":59.5,"lo":61.5,"hi":72.5,"Wean":56,"Fini":29},
{"x":100,"Mat":37.5,"Gest":60,"lo":62,"hi":73,"Wean":58,"Fini":34},
{"x":110,"Mat":39,"Gest":60.5,"lo":62,"hi":72,"Wean":60.5,"Fini":41},
{"x":120,"Mat":40,"Gest":61,"lo":63,"hi":74,"Wean":61.5,"Fini":47},
{"x":130,"Mat":41,"Gest":61.5,"lo":61,"hi":72.5,"Wean":62.5,"Fini":51},
{"x":140,"Mat":41.5,"Gest":61.5,"lo":62.5,"hi":73,"Wean":63,"Fini":54.5},
{"x":150,"Mat":41,"Gest":62,"lo":62,"hi":71.5,"Wean":63.5,"Fini":56},
{"x":160,"Mat":42,"Gest":62,"lo":61,"hi":74,"Wean":63.5,"Fini":57.5},
{"x":175,"Mat":40.5,"Gest":62,"lo":63,"hi":72.5,"Wean":63,"Fini":58.5},
{"x":190,"Mat":41.5,"Gest":62,"lo":62,"hi":73,"Wean":62,"Fini":59.5},
{"x":205,"Mat":40,"Gest":61.5,"lo":61.5,"hi":72,"Wean":61.5,"Fini":60},
{"x":220,"Mat":41,"Gest":62,"lo":62.5,"hi":73.5,"Wean":61,"Fini":60.5},
{"x":240,"Mat":39,"Gest":61,"lo":62,"hi":71,"Wean":61.5,"Fini":60.5},
{"x":260,"Mat":41,"Gest":62,"lo":61,"hi":74,"Wean":61,"Fini":60.5},
{"x":280,"Mat":39.5,"Gest":60.5,"lo":63,"hi":72,"Wean":61.5,"Fini":60},
{"x":300,"Mat":41.5,"Gest":62.5,"lo":60,"hi":73,"Wean":61,"Fini":60.5},
{"x":320,"Mat":39,"Gest":61,"lo":63,"hi":71,"Wean":60.5,"Fini":61},
{"x":340,"Mat":41,"Gest":62,"lo":61,"hi":75,"Wean":61.5,"Fini":60.5},
{"x":360,"Mat":40,"Gest":60.5,"lo":62,"hi":72,"Wean":61,"Fini":60.5},
{"x":380,"Mat":42,"Gest":62.5,"lo":63,"hi":73,"Wean":60.5,"Fini":61},
{"x":400,"Mat":39.5,"Gest":61.5,"lo":60,"hi":71,"Wean":61,"Fini":60},
{"x":420,"Mat":41,"Gest":60.5,"lo":62,"hi":74,"Wean":60.5,"Fini":60.5},
{"x":440,"Mat":39,"Gest":62,"lo":63,"hi":72,"Wean":61.5,"Fini":60.5},
{"x":460,"Mat":40.5,"Gest":61,"lo":61,"hi":73,"Wean":61,"Fini":60},
{"x":480,"Mat":41.5,"Gest":62.5,"lo":62,"hi":71,"Wean":60.5,"Fini":61},
{"x":500,"Mat":39.5,"Gest":61.5,"lo":63,"hi":74,"Wean":61,"Fini":60.5},
{"x":520,"Mat":40,"Gest":60.5,"lo":60,"hi":72,"Wean":61.5,"Fini":60},
{"x":540,"Mat":41.5,"Gest":62,"lo":62,"hi":73,"Wean":61,"Fini":60.5},
{"x":560,"Mat":39,"Gest":61,"lo":63,"hi":72,"Wean":61.5,"Fini":60.5},
{"x":580,"Mat":40.5,"Gest":62.5,"lo":61,"hi":74,"Wean":61,"Fini":61},
{"x":600,"Mat":41,"Gest":61.5,"lo":62,"hi":71,"Wean":60.5,"Fini":60.5},
{"x":620,"Mat":39.5,"Gest":60.5,"lo":60,"hi":73,"Wean":61.5,"Fini":60.5},
{"x":640,"Mat":40.5,"Gest":62,"lo":63,"hi":72,"Wean":61,"Fini":61},
{"x":660,"Mat":42,"Gest":61.5,"lo":62,"hi":74,"Wean":60.5,"Fini":60},
{"x":680,"Mat":39.5,"Gest":62.5,"lo":61,"hi":71,"Wean":61.5,"Fini":60.5},
{"x":700,"Mat":40.5,"Gest":61,"lo":63,"hi":75,"Wean":62,"Fini":60.5},
{"x":720,"Mat":41,"Gest":62,"lo":60,"hi":72,"Wean":61,"Fini":61},
{"x":740,"Mat":39,"Gest":61,"lo":62,"hi":73,"Wean":60.5,"Fini":60.5},
{"x":760,"Mat":40.5,"Gest":62.5,"lo":63,"hi":71,"Wean":61,"Fini":60.5},
{"x":780,"Mat":41.5,"Gest":61.5,"lo":61,"hi":74,"Wean":61,"Fini":61},
{"x":800,"Mat":39.5,"Gest":61,"lo":62,"hi":72,"Wean":61.5,"Fini":60.5},
{"x":820,"Mat":41,"Gest":62.5,"lo":60,"hi":73,"Wean":61,"Fini":60.5},
{"x":840,"Mat":40,"Gest":61.5,"lo":63,"hi":71,"Wean":61.5,"Fini":60.5},
{"x":860,"Mat":42,"Gest":61,"lo":62,"hi":74,"Wean":61,"Fini":60},
{"x":880,"Mat":39.5,"Gest":62.5,"lo":61,"hi":72,"Wean":60.5,"Fini":60.5},
{"x":900,"Mat":41,"Gest":61.5,"lo":63,"hi":74,"Wean":61,"Fini":60.5},
{"x":910,"Mat":40,"Gest":61,"lo":62,"hi":71,"Wean":60.5,"Fini":60}
],
"H":[
{"x":0,"Mat":0,"Gest":0,"lo":0,"hi":0,"Wean":0,"Fini":0},
{"x":10,"Mat":2.7,"Gest":0,"lo":0,"hi":0,"Wean":0,"Fini":0},
{"x":20,"Mat":5.5,"Gest":0,"lo":0,"hi":0,"Wean":0,"Fini":0},
{"x":30,"Mat":8,"Gest":0,"lo":0,"hi":0,"Wean":0,"Fini":0},
{"x":40,"Mat":11,"Gest":0,"lo":0,"hi":0,"Wean":0,"Fini":0},
{"x":45,"Mat":12.5,"Gest":3,"lo":0,"hi":0,"Wean":0,"Fini":0},
{"x":50,"Mat":14,"Gest":10,"lo":0,"hi":0,"Wean":0,"Fini":0},
{"x":55,"Mat":15,"Gest":18,"lo":0,"hi":0,"Wean":0,"Fini":0},
{"x":60,"Mat":17,"Gest":28,"lo":0,"hi":0,"Wean":0.5,"Fini":0},
{"x":65,"Mat":19.5,"Gest":38,"lo":0,"hi":4,"Wean":4,"Fini":0},
{"x":70,"Mat":22,"Gest":44,"lo":15,"hi":30,"Wean":10,"Fini":0},
{"x":75,"Mat":24.5,"Gest":49,"lo":40,"hi":50,"Wean":20,"Fini":1.5},
{"x":80,"Mat":27,"Gest":52.5,"lo":45,"hi":55,"Wean":30,"Fini":4},
{"x":85,"Mat":29,"Gest":54.5,"lo":47,"hi":58,"Wean":36,"Fini":8},
{"x":90,"Mat":31,"Gest":56,"lo":48,"hi":60,"Wean":40,"Fini":13},
{"x":95,"Mat":33,"Gest":57.5,"lo":49,"hi":61,"Wean":44,"Fini":18},
{"x":100,"Mat":34.5,"Gest":58.5,"lo":50,"hi":62,"Wean":47,"Fini":22},
{"x":110,"Mat":37,"Gest":59.5,"lo":50,"hi":62.5,"Wean":52,"Fini":32},
{"x":120,"Mat":39,"Gest":60.5,"lo":51,"hi":63,"Wean":54.5,"Fini":38},
{"x":130,"Mat":40,"Gest":61.5,"lo":50,"hi":64,"Wean":56,"Fini":43},
{"x":140,"Mat":40.5,"Gest":62.5,"lo":51,"hi":63,"Wean":57.5,"Fini":47},
{"x":150,"Mat":41,"Gest":63,"lo":50,"hi":65,"Wean":58.5,"Fini":50},
{"x":160,"Mat":40,"Gest":63.5,"lo":51,"hi":63.5,"Wean":59.5,"Fini":52.5},
{"x":175,"Mat":39,"Gest":64.5,"lo":50.5,"hi":63,"Wean":60,"Fini":55},
{"x":190,"Mat":40.5,"Gest":65,"lo":50,"hi":62.5,"Wean":59.5,"Fini":56.5},
{"x":205,"Mat":38,"Gest":65.5,"lo":51,"hi":62,"Wean":59,"Fini":57.5},
{"x":220,"Mat":39.5,"Gest":65.5,"lo":50,"hi":62.5,"Wean":58.5,"Fini":57.5},
{"x":240,"Mat":38,"Gest":66,"lo":50.5,"hi":61,"Wean":58.5,"Fini":57.5},
{"x":260,"Mat":40,"Gest":67,"lo":49.5,"hi":64,"Wean":58,"Fini":57.5},
{"x":280,"Mat":38.5,"Gest":65.5,"lo":51.5,"hi":62,"Wean":58.5,"Fini":57},
{"x":300,"Mat":40.5,"Gest":67.5,"lo":48.5,"hi":63,"Wean":58,"Fini":57.5},
{"x":320,"Mat":38,"Gest":66,"lo":51.5,"hi":61,"Wean":57.5,"Fini":58},
{"x":340,"Mat":40,"Gest":67,"lo":49.5,"hi":65,"Wean":58.5,"Fini":57.5},
{"x":360,"Mat":39,"Gest":65.5,"lo":50.5,"hi":62,"Wean":58,"Fini":57.5},
{"x":380,"Mat":41,"Gest":67.5,"lo":51.5,"hi":63,"Wean":57.5,"Fini":58},
{"x":400,"Mat":38.5,"Gest":66.5,"lo":48.5,"hi":61,"Wean":58,"Fini":57},
{"x":420,"Mat":40,"Gest":65.5,"lo":50.5,"hi":64,"Wean":57.5,"Fini":57.5},
{"x":440,"Mat":38,"Gest":67,"lo":51.5,"hi":62,"Wean":58.5,"Fini":57.5},
{"x":460,"Mat":39.5,"Gest":66,"lo":49.5,"hi":63,"Wean":58,"Fini":57},
{"x":480,"Mat":40.5,"Gest":67.5,"lo":50.5,"hi":61,"Wean":57.5,"Fini":58},
{"x":500,"Mat":38.5,"Gest":66.5,"lo":51.5,"hi":64,"Wean":58,"Fini":57.5},
{"x":520,"Mat":39,"Gest":65.5,"lo":48.5,"hi":62,"Wean":58.5,"Fini":57},
{"x":540,"Mat":40.5,"Gest":67,"lo":50.5,"hi":63,"Wean":58,"Fini":57.5},
{"x":560,"Mat":38,"Gest":66,"lo":51.5,"hi":62,"Wean":58.5,"Fini":57.5},
{"x":580,"Mat":39.5,"Gest":67.5,"lo":49.5,"hi":64,"Wean":58,"Fini":58},
{"x":600,"Mat":40,"Gest":66.5,"lo":50.5,"hi":61,"Wean":57.5,"Fini":57.5},
{"x":620,"Mat":38.5,"Gest":65.5,"lo":48.5,"hi":63,"Wean":58.5,"Fini":57.5},
{"x":640,"Mat":39.5,"Gest":67,"lo":51.5,"hi":62,"Wean":58,"Fini":58},
{"x":660,"Mat":41,"Gest":66.5,"lo":50.5,"hi":64,"Wean":57.5,"Fini":57},
{"x":680,"Mat":38.5,"Gest":67.5,"lo":49.5,"hi":61,"Wean":58.5,"Fini":57.5},
{"x":700,"Mat":39.5,"Gest":66,"lo":51.5,"hi":65,"Wean":59,"Fini":57.5},
{"x":720,"Mat":40,"Gest":67,"lo":48.5,"hi":62,"Wean":58,"Fini":58},
{"x":740,"Mat":38,"Gest":66,"lo":50.5,"hi":63,"Wean":57.5,"Fini":57.5},
{"x":760,"Mat":39.5,"Gest":67.5,"lo":51.5,"hi":61,"Wean":58,"Fini":57.5},
{"x":780,"Mat":40.5,"Gest":66.5,"lo":49.5,"hi":64,"Wean":58,"Fini":58},
{"x":800,"Mat":38.5,"Gest":66,"lo":50.5,"hi":62,"Wean":58.5,"Fini":57.5},
{"x":820,"Mat":40,"Gest":67.5,"lo":48.5,"hi":63,"Wean":58,"Fini":57.5},
{"x":840,"Mat":39,"Gest":66.5,"lo":51.5,"hi":61,"Wean":58.5,"Fini":57.5},
{"x":860,"Mat":41,"Gest":66,"lo":50.5,"hi":64,"Wean":58,"Fini":57},
{"x":880,"Mat":38.5,"Gest":67.5,"lo":49.5,"hi":62,"Wean":57.5,"Fini":57.5},
{"x":900,"Mat":40,"Gest":66.5,"lo":51.5,"hi":64,"Wean":58,"Fini":57.5},
{"x":910,"Mat":39,"Gest":66,"lo":50.5,"hi":61,"Wean":57.5,"Fini":57}
]
},
"concat":[
{"title":"A. Litterwise, 75% day1 trans.","data":{"name":"A"},"width":351,"height":196,"layer":[
{"mark":{"type":"line","color":"#000000","strokeWidth":2,"strokeCap":"round","strokeDash":[0.5,4.5]},"encoding":{"x":{"field":"x","type":"quantitative","scale":{"domain":[-36.4,946.4],"nice":false,"zero":false},"axis":{"values":[0,200,400,600,800],"tickCount":10,"title":"Days after first MRSA introduction"}},"y":{"field":"Mat","type":"quantitative","scale":{"domain":[-4,104],"nice":false,"zero":false},"axis":{"values":[0,20,40,60,80,100],"tickCount":12,"labelAngle":-90,"labelPadding":10,"titlePadding":2,"labelOverlap":false,"title":"% MRSA shedders"}}}},
{"mark":{"type":"line","color":"#808080","strokeWidth":2,"strokeCap":"round","strokeDash":[4,5]},"encoding":{"x":{"field":"x","type":"quantitative"},"y":{"field":"Gest","type":"quantitative"}}},
{"mark":{"type":"area","color":"#8B1A1A","stroke":"#8B1A1A","strokeWidth":1.2},"encoding":{"x":{"field":"x","type":"quantitative"},"y":{"field":"lo","type":"quantitative"},"y2":{"field":"hi"}}},
{"transform":[{"fold":["Wean"],"as":["s","v"]}],"mark":{"type":"line","strokeWidth":2},"encoding":{"x":{"field":"x","type":"quantitative"},"y":{"field":"v","type":"quantitative"},"color":{"field":"s","type":"nominal","scale":{"domain":["Mat","Gest","Far","Wean","Fini"],"range":["#000000","#808080","#8B1A1A","#2E3F9E","#4F94CD"]},"legend":{"title":null,"orient":"none","legendX":570,"legendY":576,"direction":"horizontal","symbolType":"stroke","symbolSize":900,"symbolStrokeWidth":3.3,"labelFont":"Liberation Sans","labelFontSize":21,"labelColor":"#000","labelOffset":19,"columnPadding":2,"gridAlign":"all","padding":0,"encode":{"symbols":{"update":{"strokeDash":{"signal":"datum.value === 'Mat' ? [0.5, 12] : datum.value === 'Gest' ? [8, 11] : datum.value === 'Fini' ? [0.5, 8, 9, 8] : [1, 0]"},"strokeCap":{"value":"round"},"strokeWidth":{"value":3.3}}}}}}}},
{"mark":{"type":"line","color":"#4F94CD","strokeWidth":2,"strokeCap":"round","strokeDash":[0.5,4.5,5,4.5]},"encoding":{"x":{"field":"x","type":"quantitative"},"y":{"field":"Fini","type":"quantitative"}}}
]},
{"title":"B.Litterwise, 50% day1 trans.","data":{"name":"B"},"width":351,"height":196,"layer":[
{"mark":{"type":"line","color":"#000000","strokeWidth":2,"strokeCap":"round","strokeDash":[0.5,4.5]},"encoding":{"x":{"field":"x","type":"quantitative","scale":{"domain":[-36.4,946.4],"nice":false,"zero":false},"axis":{"values":[0,200,400,600,800],"tickCount":10,"title":"Days after first MRSA introduction"}},"y":{"field":"Mat","type":"quantitative","scale":{"domain":[-4,104],"nice":false,"zero":false},"axis":{"values":[0,20,40,60,80,100],"tickCount":12,"labelAngle":-90,"labelPadding":10,"titlePadding":2,"labelOverlap":false,"title":"% MRSA shedders"}}}},
{"mark":{"type":"line","color":"#808080","strokeWidth":2,"strokeCap":"round","strokeDash":[4,5]},"encoding":{"x":{"field":"x","type":"quantitative"},"y":{"field":"Gest","type":"quantitative"}}},
{"mark":{"type":"area","color":"#8B1A1A","stroke":"#8B1A1A","strokeWidth":1.2},"encoding":{"x":{"field":"x","type":"quantitative"},"y":{"field":"lo","type":"quantitative"},"y2":{"field":"hi"}}},
{"mark":{"type":"line","color":"#2E3F9E","strokeWidth":2},"encoding":{"x":{"field":"x","type":"quantitative"},"y":{"field":"Wean","type":"quantitative"}}},
{"mark":{"type":"line","color":"#4F94CD","strokeWidth":2,"strokeCap":"round","strokeDash":[0.5,4.5,5,4.5]},"encoding":{"x":{"field":"x","type":"quantitative"},"y":{"field":"Fini","type":"quantitative"}}}
]},
{"title":"C.Litterwise, 25% day1 trans.","data":{"name":"C"},"width":351,"height":196,"layer":[
{"mark":{"type":"line","color":"#000000","strokeWidth":2,"strokeCap":"round","strokeDash":[0.5,4.5]},"encoding":{"x":{"field":"x","type":"quantitative","scale":{"domain":[-36.4,946.4],"nice":false,"zero":false},"axis":{"values":[0,200,400,600,800],"tickCount":10,"title":"Days after first MRSA introduction"}},"y":{"field":"Mat","type":"quantitative","scale":{"domain":[-4,104],"nice":false,"zero":false},"axis":{"values":[0,20,40,60,80,100],"tickCount":12,"labelAngle":-90,"labelPadding":10,"titlePadding":2,"labelOverlap":false,"title":"% MRSA shedders"}}}},
{"mark":{"type":"line","color":"#808080","strokeWidth":2,"strokeCap":"round","strokeDash":[4,5]},"encoding":{"x":{"field":"x","type":"quantitative"},"y":{"field":"Gest","type":"quantitative"}}},
{"mark":{"type":"area","color":"#8B1A1A","stroke":"#8B1A1A","strokeWidth":1.2},"encoding":{"x":{"field":"x","type":"quantitative"},"y":{"field":"lo","type":"quantitative"},"y2":{"field":"hi"}}},
{"mark":{"type":"line","color":"#2E3F9E","strokeWidth":2},"encoding":{"x":{"field":"x","type":"quantitative"},"y":{"field":"Wean","type":"quantitative"}}},
{"mark":{"type":"line","color":"#4F94CD","strokeWidth":2,"strokeCap":"round","strokeDash":[0.5,4.5,5,4.5]},"encoding":{"x":{"field":"x","type":"quantitative"},"y":{"field":"Fini","type":"quantitative"}}}
]},
{"title":"D. Litterwise, no day1 trans.","data":{"name":"D"},"width":351,"height":196,"layer":[
{"mark":{"type":"line","color":"#000000","strokeWidth":2,"strokeCap":"round","strokeDash":[0.5,4.5]},"encoding":{"x":{"field":"x","type":"quantitative","scale":{"domain":[-36.4,946.4],"nice":false,"zero":false},"axis":{"values":[0,200,400,600,800],"tickCount":10,"title":"Days after first MRSA introduction"}},"y":{"field":"Mat","type":"quantitative","scale":{"domain":[-4,104],"nice":false,"zero":false},"axis":{"values":[0,20,40,60,80,100],"tickCount":12,"labelAngle":-90,"labelPadding":10,"titlePadding":2,"labelOverlap":false,"title":"% MRSA shedders"}}}},
{"mark":{"type":"line","color":"#808080","strokeWidth":2,"strokeCap":"round","strokeDash":[4,5]},"encoding":{"x":{"field":"x","type":"quantitative"},"y":{"field":"Gest","type":"quantitative"}}},
{"mark":{"type":"area","color":"#8B1A1A","stroke":"#8B1A1A","strokeWidth":1.2},"encoding":{"x":{"field":"x","type":"quantitative"},"y":{"field":"lo","type":"quantitative"},"y2":{"field":"hi"}}},
{"mark":{"type":"line","color":"#2E3F9E","strokeWidth":2},"encoding":{"x":{"field":"x","type":"quantitative"},"y":{"field":"Wean","type":"quantitative"}}},
{"mark":{"type":"line","color":"#4F94CD","strokeWidth":2,"strokeCap":"round","strokeDash":[0.5,4.5,5,4.5]},"encoding":{"x":{"field":"x","type":"quantitative"},"y":{"field":"Fini","type":"quantitative"}}}
]},
{"title":"E. 50% btw. sec.+stab, 75% day1 trans.","data":{"name":"E"},"width":351,"height":196,"layer":[
{"mark":{"type":"line","color":"#000000","strokeWidth":2,"strokeCap":"round","strokeDash":[0.5,4.5]},"encoding":{"x":{"field":"x","type":"quantitative","scale":{"domain":[-36.4,946.4],"nice":false,"zero":false},"axis":{"values":[0,200,400,600,800],"tickCount":10,"title":"Days after first MRSA introduction"}},"y":{"field":"Mat","type":"quantitative","scale":{"domain":[-4,104],"nice":false,"zero":false},"axis":{"values":[0,20,40,60,80,100],"tickCount":12,"labelAngle":-90,"labelPadding":10,"titlePadding":2,"labelOverlap":false,"title":"% MRSA shedders"}}}},
{"mark":{"type":"line","color":"#808080","strokeWidth":2,"strokeCap":"round","strokeDash":[4,5]},"encoding":{"x":{"field":"x","type":"quantitative"},"y":{"field":"Gest","type":"quantitative"}}},
{"mark":{"type":"area","color":"#8B1A1A","stroke":"#8B1A1A","strokeWidth":1.2},"encoding":{"x":{"field":"x","type":"quantitative"},"y":{"field":"lo","type":"quantitative"},"y2":{"field":"hi"}}},
{"mark":{"type":"line","color":"#2E3F9E","strokeWidth":2},"encoding":{"x":{"field":"x","type":"quantitative"},"y":{"field":"Wean","type":"quantitative"}}},
{"mark":{"type":"line","color":"#4F94CD","strokeWidth":2,"strokeCap":"round","strokeDash":[0.5,4.5,5,4.5]},"encoding":{"x":{"field":"x","type":"quantitative"},"y":{"field":"Fini","type":"quantitative"}}}
]},
{"title":"F. 50% btw. sec.+stab, 50% day1 trans.","data":{"name":"F"},"width":351,"height":196,"layer":[
{"mark":{"type":"line","color":"#000000","strokeWidth":2,"strokeCap":"round","strokeDash":[0.5,4.5]},"encoding":{"x":{"field":"x","type":"quantitative","scale":{"domain":[-36.4,946.4],"nice":false,"zero":false},"axis":{"values":[0,200,400,600,800],"tickCount":10,"title":"Days after first MRSA introduction"}},"y":{"field":"Mat","type":"quantitative","scale":{"domain":[-4,104],"nice":false,"zero":false},"axis":{"values":[0,20,40,60,80,100],"tickCount":12,"labelAngle":-90,"labelPadding":10,"titlePadding":2,"labelOverlap":false,"title":"% MRSA shedders"}}}},
{"mark":{"type":"line","color":"#808080","strokeWidth":2,"strokeCap":"round","strokeDash":[4,5]},"encoding":{"x":{"field":"x","type":"quantitative"},"y":{"field":"Gest","type":"quantitative"}}},
{"mark":{"type":"area","color":"#8B1A1A","stroke":"#8B1A1A","strokeWidth":1.2},"encoding":{"x":{"field":"x","type":"quantitative"},"y":{"field":"lo","type":"quantitative"},"y2":{"field":"hi"}}},
{"mark":{"type":"line","color":"#2E3F9E","strokeWidth":2},"encoding":{"x":{"field":"x","type":"quantitative"},"y":{"field":"Wean","type":"quantitative"}}},
{"mark":{"type":"line","color":"#4F94CD","strokeWidth":2,"strokeCap":"round","strokeDash":[0.5,4.5,5,4.5]},"encoding":{"x":{"field":"x","type":"quantitative"},"y":{"field":"Fini","type":"quantitative"}}}
]},
{"title":"G. 50% btw. sec.+stab, 25% day1 trans.","data":{"name":"G"},"width":351,"height":196,"layer":[
{"mark":{"type":"line","color":"#000000","strokeWidth":2,"strokeCap":"round","strokeDash":[0.5,4.5]},"encoding":{"x":{"field":"x","type":"quantitative","scale":{"domain":[-36.4,946.4],"nice":false,"zero":false},"axis":{"values":[0,200,400,600,800],"tickCount":10,"title":"Days after first MRSA introduction"}},"y":{"field":"Mat","type":"quantitative","scale":{"domain":[-4,104],"nice":false,"zero":false},"axis":{"values":[0,20,40,60,80,100],"tickCount":12,"labelAngle":-90,"labelPadding":10,"titlePadding":2,"labelOverlap":false,"title":"% MRSA shedders"}}}},
{"mark":{"type":"line","color":"#808080","strokeWidth":2,"strokeCap":"round","strokeDash":[4,5]},"encoding":{"x":{"field":"x","type":"quantitative"},"y":{"field":"Gest","type":"quantitative"}}},
{"mark":{"type":"area","color":"#8B1A1A","stroke":"#8B1A1A","strokeWidth":1.2},"encoding":{"x":{"field":"x","type":"quantitative"},"y":{"field":"lo","type":"quantitative"},"y2":{"field":"hi"}}},
{"mark":{"type":"line","color":"#2E3F9E","strokeWidth":2},"encoding":{"x":{"field":"x","type":"quantitative"},"y":{"field":"Wean","type":"quantitative"}}},
{"mark":{"type":"line","color":"#4F94CD","strokeWidth":2,"strokeCap":"round","strokeDash":[0.5,4.5,5,4.5]},"encoding":{"x":{"field":"x","type":"quantitative"},"y":{"field":"Fini","type":"quantitative"}}}
]},
{"title":"H. 50% btw. sec.+stab, no day1 trans.","data":{"name":"H"},"width":351,"height":196,"layer":[
{"mark":{"type":"line","color":"#000000","strokeWidth":2,"strokeCap":"round","strokeDash":[0.5,4.5]},"encoding":{"x":{"field":"x","type":"quantitative","scale":{"domain":[-36.4,946.4],"nice":false,"zero":false},"axis":{"values":[0,200,400,600,800],"tickCount":10,"title":"Days after first MRSA introduction"}},"y":{"field":"Mat","type":"quantitative","scale":{"domain":[-4,104],"nice":false,"zero":false},"axis":{"values":[0,20,40,60,80,100],"tickCount":12,"labelAngle":-90,"labelPadding":10,"titlePadding":2,"labelOverlap":false,"title":"% MRSA shedders"}}}},
{"mark":{"type":"line","color":"#808080","strokeWidth":2,"strokeCap":"round","strokeDash":[4,5]},"encoding":{"x":{"field":"x","type":"quantitative"},"y":{"field":"Gest","type":"quantitative"}}},
{"mark":{"type":"area","color":"#8B1A1A","stroke":"#8B1A1A","strokeWidth":1.2},"encoding":{"x":{"field":"x","type":"quantitative"},"y":{"field":"lo","type":"quantitative"},"y2":{"field":"hi"}}},
{"mark":{"type":"line","color":"#2E3F9E","strokeWidth":2},"encoding":{"x":{"field":"x","type":"quantitative"},"y":{"field":"Wean","type":"quantitative"}}},
{"mark":{"type":"line","color":"#4F94CD","strokeWidth":2,"strokeCap":"round","strokeDash":[0.5,4.5,5,4.5]},"encoding":{"x":{"field":"x","type":"quantitative"},"y":{"field":"Fini","type":"quantitative"}}}
]}
],
"config":{
"font":"Liberation Sans",
"view":{"stroke":"#000000","strokeWidth":1},
"axis":{"domain":false,"grid":false,"ticks":true,"tickColor":"#000000","tickSize":7,"tickWidth":1,"labelFont":"Liberation Sans","labelFontSize":15,"labelColor":"#000000","titleFont":"Liberation Sans","titleFontSize":16,"titleFontWeight":"normal","titleColor":"#000000","labelFlush":false,"labelOverlap":false},
"axisX":{"labelPadding":3,"titlePadding":8},
"title":{"font":"Liberation Sans","fontSize":16,"fontWeight":"bold","color":"#000000","anchor":"middle","frame":"group","offset":9.5,"baseline":"alphabetic"}
}
}
